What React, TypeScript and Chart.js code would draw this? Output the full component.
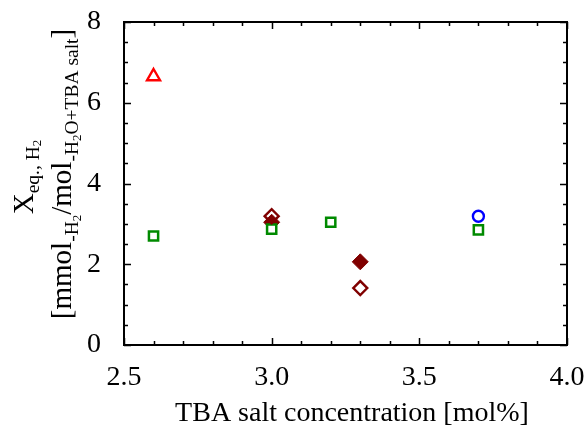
import React, { useEffect, useRef } from 'react';
import { Chart, registerables } from 'chart.js';

Chart.register(...registerables);

const FONT = "'Liberation Serif', 'Times New Roman', serif";

// Data
const triangleX = [2.6];
const triangleY = [6.65];
const squareX = [2.6, 3.0, 3.2, 3.7];
const squareY = [2.7, 2.87, 3.04, 2.85];
const openDiamondX = [3.0, 3.3];
const openDiamondY = [3.19, 1.41];
const filledDiamondX = [3.0, 3.3];
const filledDiamondY = [3.04, 2.06];
const circleX = [3.7];
const circleY = [3.19];

const xMin = 2.5, xMax = 4.0, xStep = 0.5, xMinorStep = 0.1;
const yMin = 0, yMax = 8, yStep = 2, yMinorStep = 0.5;

const xTitle = 'TBA salt concentration [mol%]';

type Seg = { t: string; size: number; dy: number };
const yTitleLine1: Seg[] = [
  { t: 'X', size: 29, dy: 0 },
  { t: 'eq., H', size: 19.5, dy: 6 },
  { t: '2', size: 13, dy: 8 },
];
const yTitleLine2: Seg[] = [
  { t: '[mmol', size: 29, dy: 0 },
  { t: '-H', size: 19.5, dy: 7 },
  { t: '2', size: 13, dy: 10 },
  { t: '/mol', size: 29, dy: 0 },
  { t: '-H', size: 19.5, dy: 7 },
  { t: '2', size: 13, dy: 10 },
  { t: 'O+TBA salt', size: 19.5, dy: 7 },
  { t: ']', size: 29, dy: 0 },
];

const pts = (xs: number[], ys: number[]) => xs.map((x, i) => ({ x, y: ys[i] }));

function drawRich(ctx: CanvasRenderingContext2D, segs: Seg[], baseX: number, centerY: number) {
  ctx.save();
  ctx.translate(baseX, centerY);
  ctx.rotate(-Math.PI / 2);
  ctx.textBaseline = 'alphabetic';
  ctx.textAlign = 'left';
  let total = 0;
  const widths = segs.map((s) => {
    ctx.font = `${s.size}px ${FONT}`;
    const w = ctx.measureText(s.t).width;
    total += w;
    return w;
  });
  let x = -total / 2;
  segs.forEach((s, i) => {
    ctx.font = `${s.size}px ${FONT}`;
    ctx.fillText(s.t, x, s.dy);
    x += widths[i];
  });
  ctx.restore();
}

const decor = {
  id: 'decor',
  afterDraw(chart: any) {
    const { ctx, chartArea: a, scales } = chart;
    const xs = scales.x, ys = scales.y;
    ctx.save();
    ctx.strokeStyle = '#000';
    ctx.lineWidth = 2;
    ctx.strokeRect(a.left, a.top, a.right - a.left, a.bottom - a.top);
    ctx.lineWidth = 1.5;
    ctx.beginPath();
    const nx = Math.round((xMax - xMin) / xMinorStep);
    for (let i = 0; i <= nx; i++) {
      const v = xMin + i * xMinorStep;
      const px = Math.round(xs.getPixelForValue(v)) + 0.5;
      const major = i % Math.round(xStep / xMinorStep) === 0;
      const len = major ? 7 : 4;
      ctx.moveTo(px, a.bottom); ctx.lineTo(px, a.bottom - len);
      ctx.moveTo(px, a.top); ctx.lineTo(px, a.top + len);
    }
    const ny = Math.round((yMax - yMin) / yMinorStep);
    for (let i = 0; i <= ny; i++) {
      const v = yMin + i * yMinorStep;
      const py = Math.round(ys.getPixelForValue(v)) + 0.5;
      const major = i % Math.round(yStep / yMinorStep) === 0;
      const len = major ? 7 : 4;
      ctx.moveTo(a.left, py); ctx.lineTo(a.left + len, py);
      ctx.moveTo(a.right, py); ctx.lineTo(a.right - len, py);
    }
    ctx.stroke();

    ctx.fillStyle = '#000';
    ctx.font = `28px ${FONT}`;
    ctx.textAlign = 'center';
    ctx.textBaseline = 'alphabetic';
    ctx.fillText(xTitle, 352, 421);

    drawRich(ctx, yTitleLine1, 33, 177);
    drawRich(ctx, yTitleLine2, 71, 174);
    ctx.restore();
  },
};

export default function App() {
  const ref = useRef<HTMLCanvasElement>(null);
  useEffect(() => {
    if (!ref.current) return;
    const chart = new Chart(ref.current, {
      type: 'scatter',
      data: {
        datasets: [
          { label: 'open diamond', data: pts(openDiamondX, openDiamondY), pointStyle: 'rectRot', pointRadius: 7, borderColor: '#800000', backgroundColor: 'rgba(0,0,0,0)', borderWidth: 2.4 },
          { label: 'square', data: pts(squareX, squareY), pointStyle: 'rect', pointRadius: 6.5, borderColor: '#008a00', backgroundColor: '#ffffff', borderWidth: 2.5 },
          { label: 'filled diamond', data: pts(filledDiamondX, filledDiamondY), pointStyle: 'rectRot', pointRadius: 8, borderColor: '#800000', backgroundColor: '#800000', borderWidth: 1 },
          { label: 'triangle', data: pts(triangleX, triangleY), pointStyle: 'triangle', pointRadius: 7.5, borderColor: '#ff0000', backgroundColor: 'rgba(0,0,0,0)', borderWidth: 2.4 },
          { label: 'circle', data: pts(circleX, circleY), pointStyle: 'circle', pointRadius: 5.5, borderColor: '#0000ff', backgroundColor: 'rgba(0,0,0,0)', borderWidth: 2.4 },
        ],
      },
      options: {
        responsive: false,
        animation: false,
        layout: { padding: { left: 0, right: 18, top: 22, bottom: 0 } },
        plugins: { legend: { display: false }, tooltip: { enabled: false } },
        scales: {
          x: {
            type: 'linear', min: xMin, max: xMax,
            grid: { display: false, drawTicks: false },
            border: { display: false },
            ticks: {
              stepSize: xStep, padding: 16, color: '#000',
              font: { family: FONT, size: 28 },
              callback: (v: any) => Number(v).toFixed(1),
            },
            afterFit: (s: any) => { s.height = 82; s.paddingLeft = 0; s.paddingRight = 0; },
          },
          y: {
            type: 'linear', min: yMin, max: yMax,
            grid: { display: false, drawTicks: false },
            border: { display: false },
            ticks: {
              stepSize: yStep, padding: 23, color: '#000',
              font: { family: FONT, size: 28 },
            },
            afterFit: (s: any) => { s.width = 124; s.paddingTop = 0; s.paddingBottom = 0; },
          },
        },
      },
      plugins: [decor],
    });
    return () => chart.destroy();
  }, []);
  return (
    <div style={{ position: 'fixed', left: 0, top: 0, width: 585, height: 427, background: '#fff' }}>
      <canvas ref={ref} width={585} height={427} />
    </div>
  );
}
